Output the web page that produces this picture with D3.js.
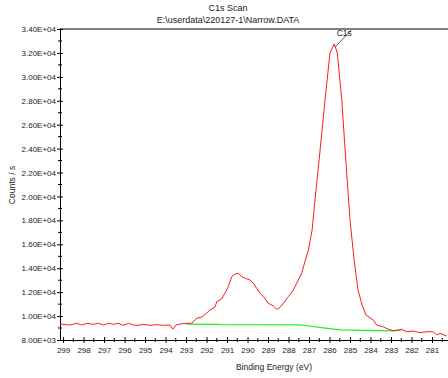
<!DOCTYPE html>
<html>
<head>
<meta charset="utf-8">
<script src="https://cdn.jsdelivr.net/npm/d3@7"></script>
<style>
  body { margin: 0; background: #fff; }
  text { font-family: "Liberation Sans", Arial, sans-serif; }
</style>
</head>
<body>
<script>
// C1s scan: binding energy (eV) vs counts/s
const spectrumBE = [299.15, 298.66, 298.33, 298.09, 297.84, 297.52, 297.28, 297.03, 296.79, 296.55,
  296.30, 296.06, 295.81, 295.57, 295.33, 295.08, 294.76, 294.43, 294.11, 293.78, 293.65, 293.49,
  293.29, 292.97, 292.72, 292.48, 292.23, 291.99, 291.83, 291.59, 291.50, 291.26, 291.10, 290.94,
  290.77, 290.61, 290.45, 290.28, 290.12, 289.88, 289.72, 289.55, 289.39, 289.15, 288.99, 288.74,
  288.58, 288.41, 288.25, 288.01, 287.77, 287.60, 287.36, 287.20, 287.03, 286.85, 286.71, 286.46,
  286.22, 285.98, 285.77, 285.62, 285.40, 285.24, 285.00, 284.80, 284.61, 284.41, 284.22, 284.02,
  283.86, 283.70, 283.38, 283.13, 282.89, 282.64, 282.48, 282.23, 281.91, 281.59, 281.26, 280.94,
  280.77, 280.61, 280.28];
const spectrumCounts = [9340, 9250, 9400, 9250, 9400, 9310, 9400, 9250, 9400, 9310,
  9400, 9230, 9400, 9250, 9230, 9310, 9230, 9280, 9230, 9250, 8900, 9250,
  9340, 9400, 9400, 9820, 9920, 10260, 10510, 10760, 11200, 11430, 11930, 12460,
  13290, 13520, 13580, 13290, 13160, 13020, 12740, 12320, 11900, 11490, 11070, 10840,
  10570, 10730, 11070, 11620, 12180, 12740, 13580, 14550, 15520, 17200, 19700, 23880,
  28060, 31990, 32750, 31990, 28060, 23880, 18030, 14690, 12180, 10930, 10090, 9840,
  9670, 9250, 9110, 8900, 8780, 8840, 8900, 8690, 8750, 8610, 8690, 8690,
  8420, 8560, 8330];

const backgroundBE = [293.0, 291.4, 291.3, 287.4, 286.9, 286.4, 285.9, 285.4, 283.9, 282.9, 282.5];
const backgroundCounts = [9320, 9310, 9280, 9260, 9150, 9040, 8930, 8850, 8790, 8760, 8830];

const xMajorTicks = d3.range(281, 300);
const xMinorTicks = d3.range(280.5, 299.5, 1);
const yMajorTicks = d3.range(8000, 34001, 2000);
const yMinorTicks = d3.range(9000, 34000, 2000);

const W = 448, H = 378;
const margin = {left: 60, top: 29, right: 0, bottom: 38};

const svg = d3.select("body").append("svg")
    .attr("width", W)
    .attr("height", H);

const x = d3.scaleLinear().domain([299.15, 280.22]).range([margin.left, W]);
const y = d3.scaleLinear().domain([8000, 34000]).range([H - margin.bottom, margin.top]);

function sci(v) {
    const e = Math.floor(Math.log10(v));
    const m = (v / Math.pow(10, e)).toFixed(2);
    return m + "E+" + String(e).padStart(2, "0");
}

// titles
svg.append("text").attr("x", 228).attr("y", 11).attr("text-anchor", "middle")
    .attr("font-size", 9).attr("fill", "#222").text("C1s Scan");
svg.append("text").attr("x", 228).attr("y", 23).attr("text-anchor", "middle")
    .attr("font-size", 9).attr("fill", "#222").text("E:\\userdata\\220127-1\\Narrow.DATA");

// top frame line
svg.append("line")
    .attr("x1", margin.left).attr("x2", W)
    .attr("y1", margin.top).attr("y2", margin.top)
    .attr("stroke", "#000");

// x axis
const xAxis = svg.append("g")
    .attr("transform", "translate(0," + y(8000) + ")")
    .call(d3.axisBottom(x).tickValues(xMajorTicks).tickSize(3).tickSizeOuter(0).tickFormat(d3.format("d")));
xAxis.select(".domain").attr("stroke", "#000");
xAxis.selectAll(".tick line").attr("y1", -3).attr("stroke", "#000");
xAxis.selectAll(".tick text").attr("font-size", 8).attr("fill", "#222").attr("dy", "0.9em")
    .style("font-family", "'Liberation Sans', Arial, sans-serif");
xAxis.append("g").selectAll("line").data(xMinorTicks).join("line")
    .attr("x1", d => x(d)).attr("x2", d => x(d))
    .attr("y1", -2).attr("y2", 2).attr("stroke", "#000");

// y axis
const yAxis = svg.append("g")
    .attr("transform", "translate(" + margin.left + ",0)")
    .call(d3.axisLeft(y).tickValues(yMajorTicks).tickSize(3).tickSizeOuter(0).tickFormat(sci));
yAxis.select(".domain").attr("stroke", "#000");
yAxis.selectAll(".tick line").attr("x1", 3).attr("stroke", "#000");
yAxis.selectAll(".tick text").attr("font-size", 8).attr("fill", "#222").attr("x", -4)
    .style("font-family", "'Liberation Sans', Arial, sans-serif");
yAxis.append("g").selectAll("line").data(yMinorTicks).join("line")
    .attr("y1", d => y(d)).attr("y2", d => y(d))
    .attr("x1", -2).attr("x2", 2).attr("stroke", "#000");

// axis titles
svg.append("text").attr("x", 274).attr("y", 370).attr("text-anchor", "middle")
    .attr("font-size", 8.5).attr("fill", "#222").text("Binding Energy (eV)");
svg.append("text").attr("transform", "translate(15,185) rotate(-90)").attr("text-anchor", "middle")
    .attr("font-size", 8.5).attr("fill", "#222").text("Counts / s");

const line = d3.line().x(d => x(d[0])).y(d => y(d[1]));

svg.append("path")
    .datum(d3.zip(backgroundBE, backgroundCounts))
    .attr("d", line)
    .attr("fill", "none")
    .attr("stroke", "#22ee22")
    .attr("stroke-width", 1.2);

svg.append("path")
    .datum(d3.zip(spectrumBE, spectrumCounts))
    .attr("d", line)
    .attr("fill", "none")
    .attr("stroke", "#ff1a1a")
    .attr("stroke-width", 1);

// peak label
const peakBE = 285.77, peakCounts = 32750;
svg.append("line")
    .attr("x1", x(peakBE) + 1).attr("y1", y(peakCounts) + 3)
    .attr("x2", x(peakBE) + 17).attr("y2", y(peakCounts) - 14)
    .attr("stroke", "#333").attr("stroke-width", 0.8);
svg.append("text").attr("x", x(peakBE) + 10).attr("y", y(peakCounts) - 8)
    .attr("text-anchor", "middle").attr("font-size", 8.5).attr("fill", "#222").text("C1s");
</script>
</body>
</html>
